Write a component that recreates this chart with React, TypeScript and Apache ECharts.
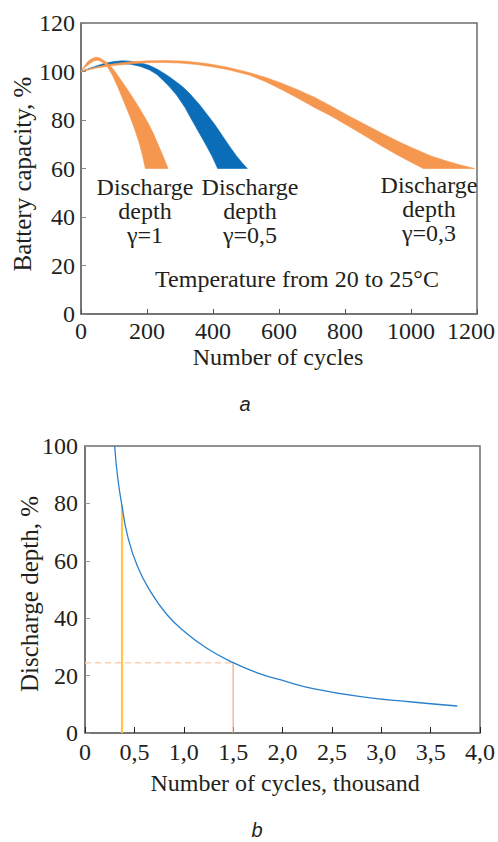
import React, { useEffect, useRef } from "react";
import * as echarts from "echarts";

const FONT = '"Liberation Serif", "Times New Roman", serif';
const TEXT = "#231f20";
const AXIS = "#6e6e6e";

// ---------- Chart a: battery capacity bands (cycles, %) ----------
const bandNames = ["γ=0,5", "γ=0,3", "γ=1"];
const bandColors = ["#0b6db7", "#f6974f", "#f6974f"];

// γ=0,5 (blue)
const blueOuter = [
  [0, 100], [20, 101], [40, 102], [60, 102.9], [80, 103.6], [100, 104.1], [123, 104.4],
  [145, 104.3], [170, 103.8], [190, 103.2], [208, 102.5], [230, 101], [250, 99.4],
  [270, 97.6], [290, 95.6], [308, 93.7], [330, 90.8], [360, 86.2], [385, 81.8],
  [405, 78.2], [430, 73.2], [450, 69.2], [470, 65.4], [488, 62.4], [504, 60],
];
const blueInner = [
  [0, 100], [30, 101.2], [60, 102.2], [90, 102.9], [120, 103.2], [150, 103], [180, 102.1],
  [208, 100.6], [230, 98.8], [250, 96.2], [268, 93.7], [290, 90.2], [315, 85.2],
  [338, 79.5], [360, 74.2], [380, 69.4], [398, 64.8], [414, 60],
];
// γ=0,3 (orange, long)
const longOuter = [
  [0, 100], [30, 101.3], [60, 102.3], [100, 103.2], [150, 104], [200, 104.4], [260, 104.5],
  [320, 104.2], [380, 103.3], [440, 101.9], [509, 99.6], [560, 97.5], [610, 95.1],
  [660, 92.3], [710, 89.2], [761, 85.5], [810, 81.8], [860, 78.2], [912, 74.5],
  [960, 71.2], [1010, 68.1], [1062, 65.1], [1110, 63.0], [1150, 61.4], [1193, 60],
];
const longInner = [
  [0, 100], [50, 101.5], [100, 102.5], [150, 103.2], [200, 103.6], [250, 103.7], [300, 103.5],
  [350, 102.9], [400, 101.9], [450, 100.6], [509, 98.6], [560, 95.8], [610, 92.4],
  [660, 88.8], [710, 85], [761, 81.4], [810, 77.5], [860, 73.5], [912, 69.2],
  [960, 65.5], [1000, 62.6], [1037, 60],
];
// γ=1 (orange, short)
const shortOuter = [
  [0, 100], [10, 102.2], [20, 104], [30, 105.1], [40, 105.7], [47, 105.9], [55, 105.7],
  [65, 105.0], [78, 103.7], [91.5, 102], [105, 99.6], [120, 96.7], [141.7, 92.4],
  [160, 88.6], [177, 84.9], [192, 81.4], [205, 78.3], [220, 74.2], [232, 70.4],
  [244, 66.6], [254, 63.3], [264, 60],
];
const shortInner = [
  [0, 100], [10, 101.3], [20, 102.6], [30, 103.6], [40, 104.4], [50, 104.6], [60, 104.2],
  [70, 103.2], [81, 101.8], [95, 98.5], [111.5, 93.6], [130, 87.5], [151.8, 80.2],
  [165, 75.3], [177, 70.2], [186, 65.6], [195, 60],
];
const bandOuter = [blueOuter, longOuter, shortOuter];
const bandInner = [blueInner, longInner, shortInner];

const labelLines1 = ["Discharge", "depth", "γ=1"];
const labelLines2 = ["Discharge", "depth", "γ=0,5"];
const labelLines3 = ["Discharge", "depth", "γ=0,3"];
const tempNote = "Temperature from 20 to 25°C";

// ---------- Chart b: discharge depth vs cycles (thousand, %) ----------
const depthCurve = [
  [0.30, 100], [0.333, 88.5], [0.373, 79.5], [0.432, 68.6], [0.532, 58], [0.665, 49.2],
  [0.831, 41.2], [0.998, 35.6], [1.23, 29.6], [1.5, 24.5], [1.76, 20.8], [2.0, 18.3],
  [2.31, 15.5], [2.81, 12.6], [3.31, 10.8], [3.77, 9.4],
];
const goldMarker = [[0.375, 0], [0.375, 79.5]];
const salmonMarker = [[1.5, 0], [1.5, 24.5]];
const dashedMarker = [[0, 24.5], [1.5, 24.5]];

function axisCommon(extra: any) {
  return {
    type: "value",
    axisLine: { show: true, lineStyle: { color: AXIS, width: 1.5 } },
    axisTick: { show: true, inside: true, length: 5, lineStyle: { color: "#555", width: 1 } },
    splitLine: { show: false },
    axisLabel: { fontFamily: FONT, fontSize: 24, color: TEXT },
    ...extra,
  };
}

export default function App() {
  const ref = useRef<HTMLDivElement>(null);
  useEffect(() => {
    document.body.style.margin = "0";
    if (!ref.current) return;
    const chart = echarts.init(ref.current, undefined, { renderer: "svg" });
    const txt = (text: string, x: number, y: number, size = 24, extra: any = {}) => ({
      type: "text",
      x,
      y,
      ...extra,
      style: {
        text,
        fill: TEXT,
        fontFamily: FONT,
        fontSize: size,
        textAlign: "center",
        textVerticalAlign: "middle",
        ...(extra.style || {}),
      },
    });
    const block = (lines: string[], x: number, y: number) =>
      txt(lines.join("\n"), x, y, 24, { style: { lineHeight: 24 } });
    const option: any = {
      animation: false,
      backgroundColor: "#ffffff",
      grid: [
        { left: 81, top: 23, width: 398, height: 291, show: true, borderColor: AXIS, borderWidth: 1.5, containLabel: false },
        { left: 85, top: 446, width: 401, height: 287, show: true, borderColor: AXIS, borderWidth: 1.5, containLabel: false },
      ],
      xAxis: [
        axisCommon({
          gridIndex: 0, min: 0, max: 1200, interval: 200,
          axisLabel: {
            fontFamily: FONT, fontSize: 24, color: TEXT, margin: 5,
            formatter: (v: number) => (v === 1200 ? "{r|1200}" : String(v)),
            rich: { r: { fontFamily: FONT, fontSize: 24, color: TEXT, padding: [0, 12, 0, 0] } },
          },
        }),
        axisCommon({
          gridIndex: 1, min: 0, max: 4, interval: 0.5,
          axisTick: { show: true, inside: true, length: 6, lineStyle: { color: "#222", width: 1 } },
          axisLabel: {
            fontFamily: FONT, fontSize: 24, color: TEXT, margin: 7,
            formatter: (v: number) => (v === 0 ? "0" : v.toFixed(1).replace(".", ",")),
          },
        }),
      ],
      yAxis: [
        axisCommon({
          gridIndex: 0, min: 0, max: 120, interval: 20,
          axisLabel: { fontFamily: FONT, fontSize: 24, color: TEXT, margin: 6 },
          axisTick: { show: true, inside: true, length: 5, lineStyle: { color: "#888", width: 1 } },
        }),
        axisCommon({
          gridIndex: 1, min: 0, max: 100, interval: 20,
          axisLabel: { fontFamily: FONT, fontSize: 24, color: TEXT, margin: 7 },
          axisTick: { show: true, inside: true, length: 5, lineStyle: { color: "#999", width: 1 } },
        }),
      ],
      series: [
        {
          type: "custom",
          name: "bands",
          xAxisIndex: 0,
          yAxisIndex: 0,
          data: bandOuter.map((b) => b[b.length - 1]),
          renderItem: (params: any, api: any) => {
            const i = params.dataIndex;
            const pts = bandOuter[i]
              .map((p) => api.coord(p))
              .concat(bandInner[i].slice().reverse().map((p) => api.coord(p)));
            return {
              type: "polygon",
              shape: { points: pts },
              style: { fill: bandColors[i], stroke: bandColors[i], lineWidth: 0.6 },
            };
          },
        },
        {
          type: "line", xAxisIndex: 1, yAxisIndex: 1, data: dashedMarker, showSymbol: false,
          lineStyle: { color: "#fbcfb2", width: 1.5, type: [6, 4] },
        },
        {
          type: "line", xAxisIndex: 1, yAxisIndex: 1, data: salmonMarker, showSymbol: false,
          lineStyle: { color: "#f2a887", width: 1.2 },
        },
        {
          type: "line", xAxisIndex: 1, yAxisIndex: 1, data: goldMarker, showSymbol: false,
          lineStyle: { color: "#ffc64a", width: 2.2 },
        },
        {
          type: "line", xAxisIndex: 1, yAxisIndex: 1, data: depthCurve, showSymbol: false,
          smooth: 0.5, lineStyle: { color: "#2a80cc", width: 1.3 },
        },
      ],
      graphic: [
        txt("Battery capacity, %", 22, 174, 25, { rotation: Math.PI / 2 }),
        txt("Number of cycles", 278, 357, 24),
        block(labelLines1, 145, 211),
        block(labelLines2, 250, 211),
        block(labelLines3, 429, 208.7),
        txt(tempNote, 297, 278.7),
        txt("a", 245, 404, 20, { style: { fontFamily: '"Liberation Sans", Arial, sans-serif', fontStyle: "italic" } }),
        txt("Discharge depth, %", 29, 594, 25, { rotation: Math.PI / 2 }),
        txt("Number of cycles, thousand", 285, 783, 24),
        txt("b", 257, 830, 20, { style: { fontFamily: '"Liberation Sans", Arial, sans-serif', fontStyle: "italic" } }),
      ],
    };
    chart.setOption(option);
    return () => chart.dispose();
  }, []);
  return <div ref={ref} style={{ width: 498, height: 842 }} />;
}
